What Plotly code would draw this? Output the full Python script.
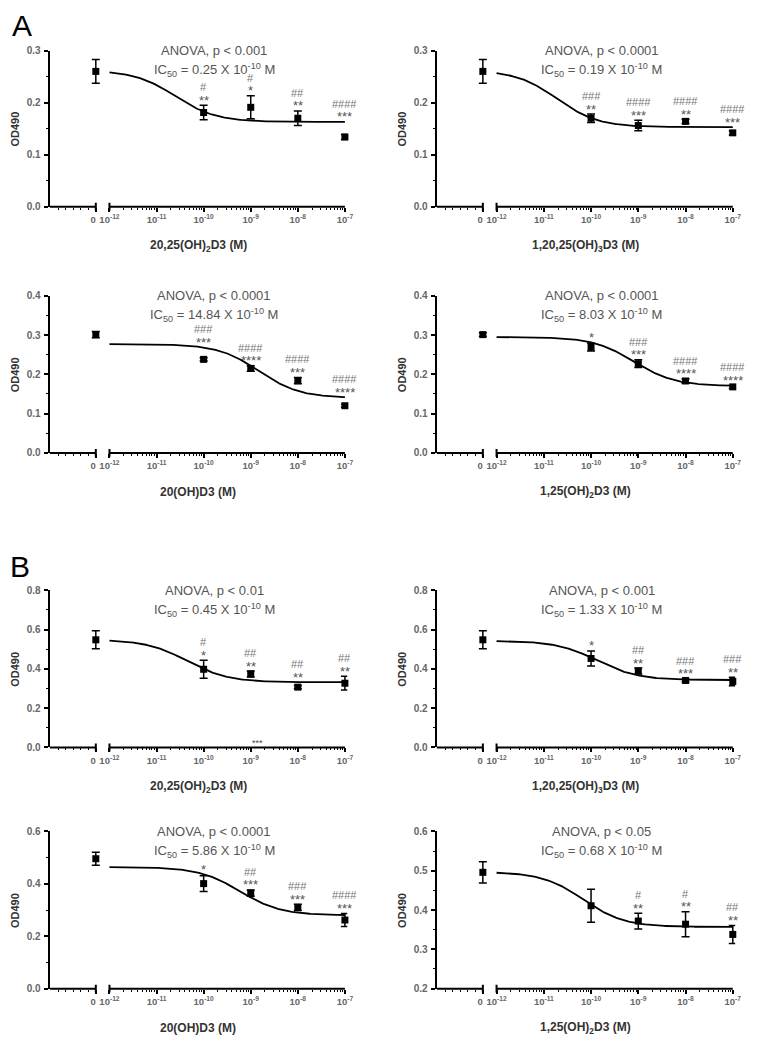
import math
import plotly.graph_objects as go

# ---------------- data ----------------
concentrations = [0, 1e-10, 1e-9, 1e-8, 1e-7]          # M (0 = vehicle control)
decade_ticks = [-12, -11, -10, -9, -8, -7]
decade_labels = ["10<sup>-12</sup>", "10<sup>-11</sup>", "10<sup>-10</sup>",
                 "10<sup>-9</sup>", "10<sup>-8</sup>", "10<sup>-7</sup>"]
zero_label = "0\u00a0\u00a0"

group_letters = ["A", "B"]
x_titles = ["20,25(OH)<sub>2</sub>D3 (M)", "1,20,25(OH)<sub>3</sub>D3 (M)",
            "20(OH)D3 (M)", "1,25(OH)<sub>2</sub>D3 (M)",
            "20,25(OH)<sub>2</sub>D3 (M)", "1,20,25(OH)<sub>3</sub>D3 (M)",
            "20(OH)D3 (M)", "1,25(OH)<sub>2</sub>D3 (M)"]
anova_text = ["ANOVA, p < 0.001", "ANOVA, p < 0.0001", "ANOVA, p < 0.0001", "ANOVA, p < 0.0001",
              "ANOVA, p < 0.01", "ANOVA, p < 0.001", "ANOVA, p < 0.0001", "ANOVA, p < 0.05"]
ic50_e10 = ["0.25", "0.19", "14.84", "8.03", "0.45", "1.33", "5.86", "0.68"]   # x 10^-10 M

od_A1 = [0.260, 0.181, 0.191, 0.170, 0.134]
sem_A1 = [0.023, 0.014, 0.022, 0.014, 0.005]
od_A2 = [0.260, 0.170, 0.156, 0.164, 0.142]
sem_A2 = [0.023, 0.008, 0.010, 0.004, 0.004]
od_A3 = [0.301, 0.238, 0.215, 0.184, 0.120]
sem_A3 = [0.008, 0.004, 0.007, 0.008, 0.004]
od_A4 = [0.301, 0.269, 0.227, 0.183, 0.168]
sem_A4 = [0.005, 0.010, 0.010, 0.006, 0.004]
od_B1 = [0.548, 0.398, 0.374, 0.307, 0.327]
sem_B1 = [0.046, 0.046, 0.015, 0.008, 0.035]
od_B2 = [0.548, 0.453, 0.389, 0.341, 0.336]
sem_B2 = [0.046, 0.038, 0.015, 0.008, 0.022]
od_B3 = [0.496, 0.401, 0.365, 0.310, 0.262]
sem_B3 = [0.025, 0.030, 0.012, 0.012, 0.025]
od_B4 = [0.496, 0.411, 0.372, 0.364, 0.338]
sem_B4 = [0.027, 0.042, 0.020, 0.032, 0.023]

# four-parameter logistic fit (top, bottom, Hill slope); IC50 from labels
fit_top = [0.262, 0.262, 0.277, 0.295, 0.548, 0.543, 0.464, 0.497]
fit_bottom = [0.163, 0.153, 0.140, 0.170, 0.332, 0.343, 0.280, 0.357]
fit_hill = [1.0, 1.0, 1.0, 1.0, 1.0, 1.0, 1.0, 1.0]

# significance marks for 1e-10 .. 1e-7
hash_marks = [["#", "#", "##", "####"], ["###", "####", "####", "####"],
              ["###", "####", "####", "####"], ["", "###", "####", "####"],
              ["#", "##", "##", "##"], ["", "##", "###", "###"],
              ["", "##", "###", "####"], ["", "#", "#", "##"]]
star_marks = [["**", "*", "**", "***"], ["**", "***", "**", "***"],
              ["***", "****", "***", "****"], ["*", "***", "****", "****"],
              ["*", "**", "**", "**"], ["*", "**", "***", "**"],
              ["*", "***", "***", "***"], ["", "**", "**", "**"]]

y_ranges = [[0, 0.3], [0, 0.3], [0, 0.4], [0, 0.4], [0, 0.8], [0, 0.8], [0, 0.6], [0.2, 0.6]]
y_dticks = [0.1, 0.1, 0.1, 0.1, 0.2, 0.2, 0.2, 0.1]

means = [od_A1, od_A2, od_A3, od_A4, od_B1, od_B2, od_B3, od_B4]
sems = [sem_A1, sem_A2, sem_A3, sem_A4, sem_B1, sem_B2, sem_B3, sem_B4]

# ---------------- layout constants ----------------
PAGE_W, PAGE_H = 760, 1050
OFF = 8                                  # default body margin of the html page
W, H = PAGE_W - OFF, PAGE_H - OFF
ZERO_POS = -12.29            # position of the vehicle ("0") point on the broken axis
X_RANGE = [-13.27, -6.95]
FONT = "Liberation Sans, Arial, sans-serif"
col_px = [(50, 350), (440, 741)]          # page pixels
row_px = [(45, 203), (293, 452), (591, 750), (835, 994)]


def px(x):
    return (x - OFF) / W


def py(y):
    return 1 - (y - OFF) / H


def curve(i, x):
    log_ic50 = math.log10(float(ic50_e10[i]) * 1e-10)
    return fit_bottom[i] + (fit_top[i] - fit_bottom[i]) / (1 + 10 ** ((x - log_ic50) * fit_hill[i]))


def xpos(c):
    return ZERO_POS if c == 0 else math.log10(c)


def note(**kw):
    d = dict(showarrow=False, xanchor="center", yanchor="middle")
    d.update(kw)
    return d


fig = go.Figure()
layout = dict(width=W, height=H, margin=dict(l=0, r=0, t=0, b=0),
              paper_bgcolor="white", plot_bgcolor="white", showlegend=False,
              font=dict(family=FONT, color="#333"))
shapes, annotations = [], []

minor_x = [ZERO_POS - 0.16 * k for k in range(1, 6)]
for d in range(-12, -7):
    minor_x += [d + math.log10(m) for m in range(2, 10)]

xtick_font = dict(size=9.5, color="#666", family=FONT, weight="bold")
ytick_font = dict(size=10, color="#666", family=FONT, weight="bold")

for i in range(8):
    r, c = i // 2, i % 2
    x0p, x1p = col_px[c]
    ytp, ybp = row_px[r]
    xd = [px(x0p), px(x1p)]
    yd = [py(ybp), py(ytp)]
    xa = "x" if i == 0 else f"x{i+1}"
    ya = "y" if i == 0 else f"y{i+1}"
    xk = "xaxis" if i == 0 else f"xaxis{i+1}"
    yk = "yaxis" if i == 0 else f"yaxis{i+1}"
    layout[xk] = dict(domain=xd, anchor=ya, range=X_RANGE, showline=False, showgrid=False, zeroline=False,
                      tickmode="array", tickvals=[ZERO_POS] + decade_ticks,
                      ticktext=[zero_label] + decade_labels, tickangle=0,
                      ticks="outside", ticklen=4, tickwidth=1.5, tickcolor="black",
                      ticklabelstandoff=0, tickfont=xtick_font,
                      minor=dict(tickmode="array", tickvals=minor_x, ticks="outside",
                                 ticklen=2, tickwidth=1.2, tickcolor="black"))
    layout[yk] = dict(domain=yd, anchor=xa, range=y_ranges[i], showline=True, linecolor="black", linewidth=2,
                      showgrid=False, zeroline=False, tick0=y_ranges[i][0], dtick=y_dticks[i],
                      tickformat=".1f", ticks="outside", ticklen=4, tickwidth=1.5, tickcolor="black",
                      ticklabelstandoff=1, tickfont=ytick_font,
                      minor=dict(dtick=y_dticks[i] / 2, ticks="outside", ticklen=2, tickwidth=1.2,
                                 tickcolor="black"))

    # broken x axis line
    yb = yd[0]
    for xs_, xe_ in [(X_RANGE[0], ZERO_POS), (-12, -7)]:
        shapes.append(dict(type="line", xref=xa, yref="paper", x0=xs_, x1=xe_, y0=yb, y1=yb,
                           line=dict(color="black", width=2)))
    for xb in [ZERO_POS, -12]:
        shapes.append(dict(type="line", xref=xa, yref="paper", x0=xb, x1=xb,
                           y0=yb - 4 / H, y1=yb + 4 / H, line=dict(color="black", width=2)))

    # fitted curve
    cx = [-12 + k * 0.025 for k in range(201)]
    fig.add_trace(go.Scatter(x=cx, y=[curve(i, v) for v in cx], mode="lines",
                             line=dict(color="black", width=1.8), xaxis=xa, yaxis=ya,
                             hoverinfo="skip", cliponaxis=False))
    # data points
    xs = [xpos(cc) for cc in concentrations]
    fig.add_trace(go.Scatter(x=xs, y=means[i], mode="markers",
                             marker=dict(symbol="square", size=7, color="black"),
                             error_y=dict(type="data", array=sems[i], color="black", thickness=1.5, width=4),
                             xaxis=xa, yaxis=ya, cliponaxis=False))

    # significance marks
    for j in range(4):
        xv = xs[j + 1]
        ytop = max(means[i][j + 1] + sems[i][j + 1], curve(i, xv))
        if star_marks[i][j]:
            annotations.append(note(x=xv, y=ytop, xref=xa, yref=ya, text=star_marks[i][j],
                                    yshift=5, font=dict(size=13, color="#555", family=FONT)))
        if hash_marks[i][j]:
            annotations.append(note(x=xv, y=ytop, xref=xa, yref=ya, text=hash_marks[i][j],
                                    yshift=18, font=dict(size=11, color="#777", family=FONT)))

    # ANOVA / IC50 text
    cxp = px((x0p + x1p) / 2 + 16)
    annotations.append(note(x=cxp, y=py(ytp), xref="paper", yref="paper", text=anova_text[i],
                            font=dict(size=13, color="#555", family=FONT)))
    annotations.append(note(x=cxp, y=py(ytp + 20), xref="paper", yref="paper",
                            text=f"IC<sub>50</sub> = {ic50_e10[i]} X 10<sup>-10</sup> M",
                            font=dict(size=13, color="#555", family=FONT)))
    # axis titles
    annotations.append(note(x=px((x0p + x1p) / 2), y=py(ybp + 40), xref="paper", yref="paper",
                            text=f"<b>{x_titles[i]}</b>",
                            font=dict(size=12, color="#333", family=FONT)))
    annotations.append(note(x=px(x0p - 35), y=py((ytp + ybp) / 2), xref="paper", yref="paper",
                            text="<b>OD490</b>", textangle=-90,
                            font=dict(size=11, color="#333", family=FONT)))

# stray marks near the axis in panel B (20,25(OH)2D3)
annotations.append(note(x=-8.85, y=0, xref="x5", yref="y5", text="***", yshift=4,
                        font=dict(size=9, color="#444", family=FONT)))

# group letters
annotations.append(note(x=px(22), y=py(20), xref="paper", yref="paper", text=group_letters[0],
                        font=dict(size=30, color="black", family=FONT)))
annotations.append(note(x=px(20), y=py(567), xref="paper", yref="paper", text=group_letters[1],
                        font=dict(size=30, color="black", family=FONT)))

layout["shapes"] = shapes
layout["annotations"] = annotations
fig.update_layout(**layout)
fig.write_html("out.html")
